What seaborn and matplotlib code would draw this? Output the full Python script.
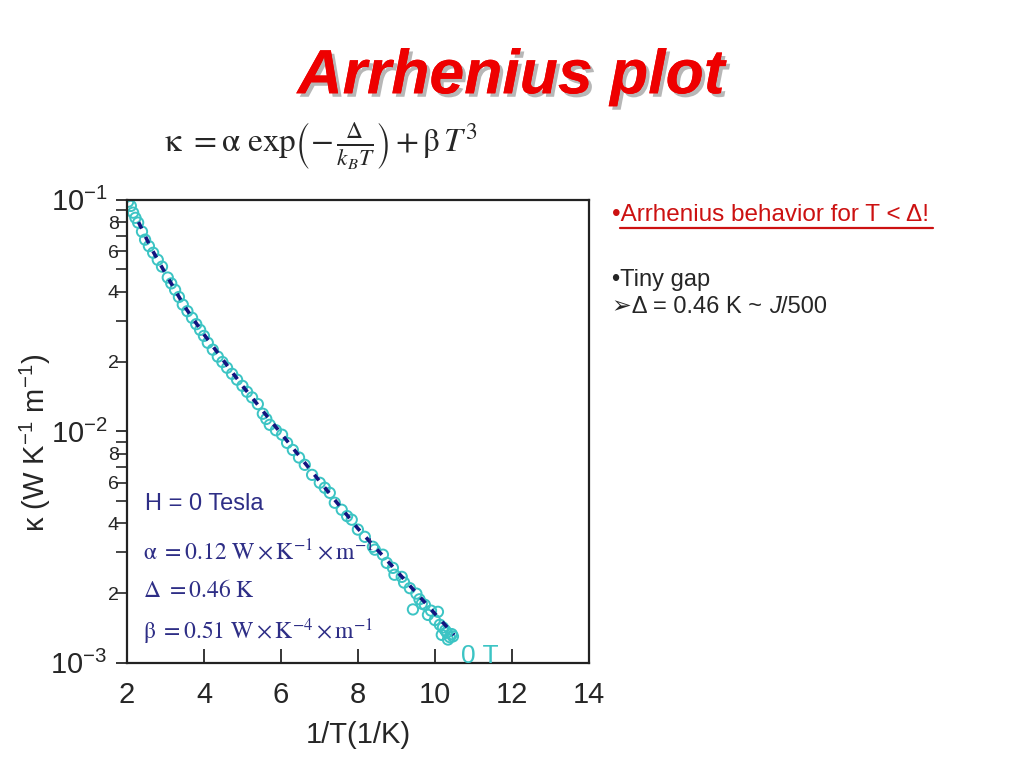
import matplotlib
matplotlib.use('Agg')
import matplotlib.pyplot as plt
import matplotlib.patheffects as pe
from matplotlib.ticker import FixedLocator, FixedFormatter, NullFormatter
import pandas as pd
import seaborn as sns

inv_T = [2.03, 2.10, 2.16, 2.22, 2.29, 2.39, 2.47, 2.57, 2.68, 2.80, 2.91, 3.06,
         3.15, 3.25, 3.35, 3.45, 3.57, 3.69, 3.80, 3.90, 4.00, 4.10, 4.23, 4.36,
         4.48, 4.60, 4.73, 4.86, 5.00, 5.12, 5.25, 5.40, 5.53, 5.62, 5.71, 5.87,
         6.03, 6.16, 6.31, 6.47, 6.62, 6.81, 7.01, 7.14, 7.27, 7.40, 7.58, 7.72,
         7.84, 8.00, 8.18, 8.39, 8.44, 8.65, 8.75, 8.91, 8.95, 9.14, 9.20, 9.35,
         9.43, 9.52, 9.60, 9.66, 9.74, 9.82, 9.90, 10.00, 10.08, 10.13, 10.18,
         10.21, 10.27, 10.31, 10.34, 10.39, 10.44, 10.47]
kappa = [0.098, 0.094, 0.0879, 0.0835, 0.0796, 0.0728, 0.0672, 0.0630, 0.0590,
         0.0550, 0.0514, 0.0461, 0.0435, 0.0408, 0.0380, 0.0352, 0.0330, 0.0309,
         0.0290, 0.0274, 0.0258, 0.0241, 0.0225, 0.0210, 0.0199, 0.0188, 0.0177,
         0.0167, 0.0157, 0.0148, 0.0140, 0.0131, 0.01190, 0.0113, 0.01066, 0.0101,
         0.00966, 0.00891, 0.0083, 0.0077, 0.00716, 0.00648, 0.00599, 0.0057,
         0.00542, 0.00491, 0.00458, 0.0043, 0.00415, 0.00376, 0.00350, 0.00317,
         0.00308, 0.00293, 0.00270, 0.00257, 0.00240, 0.00235, 0.00222, 0.00210,
         0.00170, 0.00199, 0.00188, 0.00180, 0.00178, 0.00161, 0.00168, 0.00153,
         0.00166, 0.00146, 0.00132, 0.00142, 0.00138, 0.00135, 0.00126, 0.00129,
         0.00133, 0.00130]

# fitted curve
fit_x = [2.3, 2.6, 3.0, 3.5, 4.0, 5.0, 6.0, 7.0, 8.0, 9.0, 10.0, 10.5]
fit_y = [0.080, 0.063, 0.048, 0.0345, 0.0262, 0.0157, 0.0098, 0.0061, 0.0038,
         0.00250, 0.00163, 0.00132]

x_ticks = [2, 4, 6, 8, 10, 12, 14]
y_major = [1e-3, 1e-2, 1e-1]
y_major_labels = [r'$10^{-3}$', r'$10^{-2}$', r'$10^{-1}$']
y_minor = [2e-3, 3e-3, 4e-3, 5e-3, 6e-3, 7e-3, 8e-3, 9e-3,
           2e-2, 3e-2, 4e-2, 5e-2, 6e-2, 7e-2, 8e-2, 9e-2]
y_minor_labels = ['2', '', '4', '', '6', '', '8', '',
                  '2', '', '4', '', '6', '', '8', '']

sns.set_style('ticks')
plt.rcParams['font.family'] = ['Liberation Sans', 'DejaVu Sans']
plt.rcParams['mathtext.fontset'] = 'custom'
plt.rcParams['mathtext.rm'] = 'Liberation Sans'
plt.rcParams['mathtext.it'] = 'Liberation Sans:italic'
plt.rcParams['mathtext.bf'] = 'Liberation Sans:bold'

fig = plt.figure(figsize=(10.24, 7.68), dpi=100)
ax = fig.add_axes([0.124, 0.137, 0.451, 0.603])

df = pd.DataFrame({'x': inv_T, 'k': kappa})
fit = pd.DataFrame({'x': fit_x, 'k': fit_y})

sns.lineplot(data=fit, x='x', y='k', ax=ax, color='#141480', lw=2.6,
             dashes=False, linestyle=(0, (2, 2.5)), zorder=3)
sns.scatterplot(data=df, x='x', y='k', ax=ax, marker='o', s=55,
                facecolor='none', edgecolor='#3cc4c4', linewidth=1.4, zorder=2)

ax.set_yscale('log')
ax.set_xlim(2, 14)
ax.set_ylim(1e-3, 1e-1)

ax.xaxis.set_major_locator(FixedLocator(x_ticks))
ax.yaxis.set_major_locator(FixedLocator(y_major))
ax.yaxis.set_major_formatter(FixedFormatter(y_major_labels))
ax.yaxis.set_minor_locator(FixedLocator(y_minor))
ax.yaxis.set_minor_formatter(FixedFormatter(y_minor_labels))
ax.xaxis.set_minor_formatter(NullFormatter())

ax.tick_params(axis='x', which='major', direction='in', length=10, width=1.3,
               labelsize=21, pad=13, top=False, bottom=True)
ax.tick_params(axis='x', which='minor', bottom=False, top=False)
ax.tick_params(axis='y', which='major', direction='out', length=8, width=1.3,
               labelsize=21, pad=6, right=False, left=True)
ax.tick_params(axis='y', which='minor', direction='out', length=8, width=1.2,
               labelsize=14, pad=-2, right=False, left=True)

for sp in ax.spines.values():
    sp.set_visible(True)
    sp.set_linewidth(1.6)
    sp.set_color('#222222')

ax.set_xlabel('1/T(1/K)', fontsize=21)
ax.xaxis.set_label_coords(0.5, -0.125)
ax.set_ylabel(r'κ (W K$^{-1}$ m$^{-1}$)', fontsize=21)
ax.yaxis.set_label_coords(-0.16, 0.475)

navy = '#2e2e86'
ax.text(0.039, 0.342, 'H = 0 Tesla', transform=ax.transAxes, fontsize=17,
        color=navy, va='center', ha='left')
ax.text(0.035, 0.240,
        r'$\mathrm{\alpha}\ =0.12\ \mathrm{W}\times\mathrm{K}^{-1}\times\mathrm{m}^{-1}$',
        transform=ax.transAxes, fontsize=17, color=navy, va='center', ha='left',
        math_fontfamily='stix')
ax.text(0.035, 0.156, r'$\mathrm{\Delta}\ =0.46\ \mathrm{K}$',
        transform=ax.transAxes, fontsize=17, color=navy, va='center', ha='left',
        math_fontfamily='stix')
ax.text(0.035, 0.067,
        r'$\mathrm{\beta}\ =0.51\ \mathrm{W}\times\mathrm{K}^{-4}\times\mathrm{m}^{-1}$',
        transform=ax.transAxes, fontsize=17, color=navy, va='center', ha='left',
        math_fontfamily='stix')
ax.text(10.68, 0.00107, '0 T', fontsize=19, color='#3cc4c4', va='center', ha='left')

# title and formula
fig.text(0.499, 0.9, 'Arrhenius plot', fontsize=45, color='#ee0000',
         fontweight='bold', fontstyle='italic', ha='center', va='center',
         path_effects=[pe.withSimplePatchShadow(offset=(2.5, -2.5),
                                                shadow_rgbFace='#999999', alpha=0.7),
                       pe.Normal()])
fig.text(0.16, 0.81,
         r'$\mathrm{\kappa}\ = \mathrm{\alpha}\ \mathrm{exp}\left(-\,\frac{\mathrm{\Delta}}{k_B T}\right) + \mathrm{\beta}\, T^3$',
         fontsize=24, ha='left', va='center', math_fontfamily='stix')

# notes on the right
fig.text(0.598, 0.720, '•Arrhenius behavior for T < Δ!', fontsize=17.5,
         color='#cc1111', ha='left', va='center')
fig.add_artist(plt.Line2D([0.605, 0.911], [0.703, 0.703], color='#cc1111', lw=1.6))
fig.text(0.598, 0.636, '•Tiny gap', fontsize=17, ha='left', va='center')
t1 = fig.text(0.598, 0.600, '➢Δ = 0.46 K ~ ', fontsize=17, ha='left', va='center')
t2 = ax.annotate('J', xy=(1, 0), xycoords=t1, fontsize=17, fontstyle='italic',
                 ha='left', va='bottom', annotation_clip=False)
ax.annotate('/500', xy=(1, 0), xycoords=t2, fontsize=17, ha='left', va='bottom',
            annotation_clip=False)

fig.savefig('out.png', dpi=100)
